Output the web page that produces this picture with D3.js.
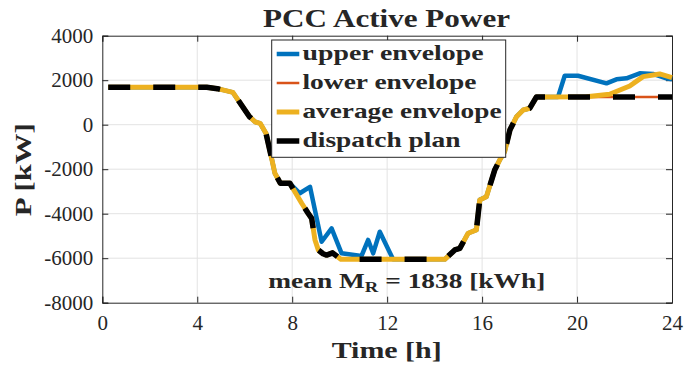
<!DOCTYPE html>
<html lang="en">
<head>
<meta charset="UTF-8">
<title>PCC Active Power</title>
<script src="https://d3js.org/d3.v7.min.js"></script>
<style>
    body{ margin: 0; background: #fff; }
    svg{ display: block; }
    text{ font-family: "Liberation Serif", serif; fill: #262626; }
    .bold{ font-weight: bold; }
</style>
</head>
<body>
<script>

    // dispatch plan (lower envelope follows it)
    const planHours = [0.25, 4.4, 4.85, 5.5, 6.2, 6.45, 6.65, 6.9, 7.13, 7.27, 7.5, 7.9, 8.4, 8.67, 8.82, 8.96, 9.1, 9.3, 9.45, 9.7, 10.05,
                       14.43, 14.85, 15.06, 15.41, 15.76, 15.9, 16.18, 16.4, 16.53, 16.74, 16.95, 17.17, 17.45, 17.73, 18.01, 18.29, 24]
    const planPower = [1680, 1680, 1620, 1450, 360, 120, 60, -400, -1500, -2180, -2630, -2630, -3530, -3980, -4210, -5180, -5630, -5800, -5860, -5760, -6050,
                       -6050, -5630, -5560, -4880, -4730, -3380, -3240, -2490, -2040, -1590, -1210, -240, 360, 660, 740, 1250, 1250]

    // upper envelope
    const upperHours = [0.25, 4.4, 4.85, 5.5, 6.2, 6.45, 6.65, 6.9, 7.13, 7.27, 7.5, 7.9, 8.32, 8.75, 9.24, 9.66, 10.08, 10.92, 11.2, 11.41, 11.69, 12.25,
                        14.43, 14.85, 15.06, 15.41, 15.76, 15.9, 16.18, 16.4, 16.53, 16.74, 16.95, 17.17, 17.45, 17.73, 18.01, 18.29,
                        19.2, 19.48, 20.04, 21.24, 21.66, 22.08, 22.64, 23.2, 23.76, 24]
    const upperPower = [1680, 1680, 1620, 1450, 360, 120, 60, -400, -1500, -2180, -2630, -2630, -3080, -2790, -5260, -4660, -5780, -5900, -5180, -5780, -4810, -6050,
                        -6050, -5630, -5560, -4880, -4730, -3380, -3240, -2490, -2040, -1590, -1210, -240, 360, 660, 740, 1250,
                        1250, 2200, 2200, 1860, 2040, 2085, 2310, 2280, 2085, 2040]

    // average envelope
    const avgHours = [0.25, 4.4, 4.85, 5.5, 6.2, 6.45, 6.65, 6.9, 7.13, 7.27, 7.5, 7.9, 8.4, 8.67, 8.82, 8.96, 9.1, 9.3, 9.45, 9.7, 10.05,
                      14.43, 14.85, 15.06, 15.41, 15.76, 15.9, 16.18, 16.4, 16.53, 16.74, 16.95, 17.17, 17.45, 17.73, 18.01, 18.29,
                      20.4, 21.37, 22.22, 22.78, 23.48, 24]
    const avgPower = [1680, 1680, 1620, 1450, 360, 120, 60, -400, -1500, -2180, -2630, -2630, -3530, -3980, -4210, -5180, -5630, -5800, -5860, -5760, -6050,
                      -6050, -5630, -5560, -4880, -4730, -3380, -3240, -2490, -2040, -1590, -1210, -240, 360, 660, 740, 1250,
                      1260, 1370, 1740, 2160, 2280, 2120]

    const xTicks = [0, 4, 8, 12, 16, 20, 24]
    const yTicks = [4000, 2000, 0, -2000, -4000, -6000, -8000]
    const legendNames = ["upper envelope", "lower envelope", "average envelope", "dispatch plan"]
    const legendWidths = [181, 174, 199, 158]

    const width = 684
    const height = 366
    const mLeft = 102.3, mRight = 672, mTop = 35.7, mBottom = 302.7

    let svg = d3.select("body").append("svg")
                .attr("width", width).attr("height", height)

    let x = d3.scaleLinear().domain([0, 24]).range([mLeft, mRight])
    let y = d3.scaleLinear().domain([-8000, 4000]).range([mBottom, mTop])

    // grid
    svg.append("g").selectAll("line").data(xTicks.slice(1, -1)).enter().append("line")
        .attr("x1", d => x(d)).attr("x2", d => x(d)).attr("y1", mTop).attr("y2", mBottom)
        .attr("stroke", "#e3e3e3").attr("stroke-width", 1)
    svg.append("g").selectAll("line").data(yTicks.slice(1, -1)).enter().append("line")
        .attr("y1", d => y(d)).attr("y2", d => y(d)).attr("x1", mLeft).attr("x2", mRight)
        .attr("stroke", "#e3e3e3").attr("stroke-width", 1)

    // axes, ticks pointing inward like matlab
    let axisColor = "#262626"
    let gx = svg.append("g").attr("transform", `translate(0,${mBottom})`)
        .call(d3.axisBottom(x).tickValues(xTicks).tickSize(-6).tickPadding(12))
    let gy = svg.append("g").attr("transform", `translate(${mLeft},0)`)
        .call(d3.axisLeft(y).tickValues(yTicks).tickSize(-6).tickPadding(9).tickFormat(d => String(d)))
    svg.append("g").attr("transform", `translate(0,${mTop})`)
        .call(d3.axisTop(x).tickValues(xTicks).tickSize(-6).tickFormat(""))
    svg.append("g").attr("transform", `translate(${mRight},0)`)
        .call(d3.axisRight(y).tickValues(yTicks).tickSize(-6).tickFormat(""))
    svg.selectAll(".domain, .tick line").attr("stroke", axisColor)
    svg.selectAll(".tick text").attr("fill", axisColor).attr("font-family", "Liberation Serif").attr("font-size", 21)

    // series
    let line = d3.line().x(d => x(d[0])).y(d => y(d[1]))
    let zip = (h, p) => h.map((d, i) => [d, p[i]])
    let series = [
        { pts: zip(upperHours, upperPower), color: "#0072BD", w: 4.5, dash: null },
        { pts: zip(planHours, planPower),   color: "#D95319", w: 2.5, dash: null },
        { pts: zip(avgHours, avgPower),     color: "#EDB120", w: 5,   dash: null },
        { pts: zip(planHours, planPower),   color: "#000000", w: 5.5, dash: "22,23" }
    ]
    series.forEach(s => {
        svg.append("path").attr("d", line(s.pts))
            .attr("fill", "none").attr("stroke", s.color).attr("stroke-width", s.w)
            .attr("stroke-linejoin", "round")
            .attr("stroke-dasharray", s.dash)
    })

    // legend
    let lg = svg.append("g")
    lg.append("rect").attr("x", 271.7).attr("y", 40).attr("width", 234).attr("height", 117.3)
        .attr("fill", "#fff").attr("stroke", axisColor).attr("stroke-width", 1)
    legendNames.forEach((name, i) => {
        let ly = 54 + i * 29
        lg.append("line").attr("x1", 276.7).attr("x2", 299.3).attr("y1", ly).attr("y2", ly)
            .attr("stroke", series[i].color).attr("stroke-width", series[i].w)
        lg.append("text").attr("class", "bold").attr("x", 302.5).attr("y", ly + 6)
            .attr("font-size", 21).attr("textLength", legendWidths[i])
            .attr("lengthAdjust", "spacingAndGlyphs").text(name)
    })

    // title and labels
    svg.append("text").attr("class", "bold").attr("x", 263).attr("y", 27)
        .attr("font-size", 25).attr("textLength", 247).attr("lengthAdjust", "spacingAndGlyphs")
        .text("PCC Active Power")
    svg.append("text").attr("class", "bold").attr("x", 331.7).attr("y", 358)
        .attr("font-size", 24).attr("textLength", 110).attr("lengthAdjust", "spacingAndGlyphs")
        .text("Time [h]")
    svg.append("text").attr("class", "bold")
        .attr("transform", `translate(31,${(mTop + mBottom) / 2 + 47}) rotate(-90)`)
        .attr("font-size", 24).attr("textLength", 93).attr("lengthAdjust", "spacingAndGlyphs")
        .text("P [kW]")

    let note = svg.append("text").attr("class", "bold").attr("x", 268.3).attr("y", 288.3)
        .attr("font-size", 22).attr("textLength", 277).attr("lengthAdjust", "spacingAndGlyphs")
    note.append("tspan").text("mean M")
    note.append("tspan").attr("dy", 4).attr("font-size", 15).text("R")
    note.append("tspan").attr("dy", -4).text(" = 1838 [kWh]")

</script>
</body>
</html>
